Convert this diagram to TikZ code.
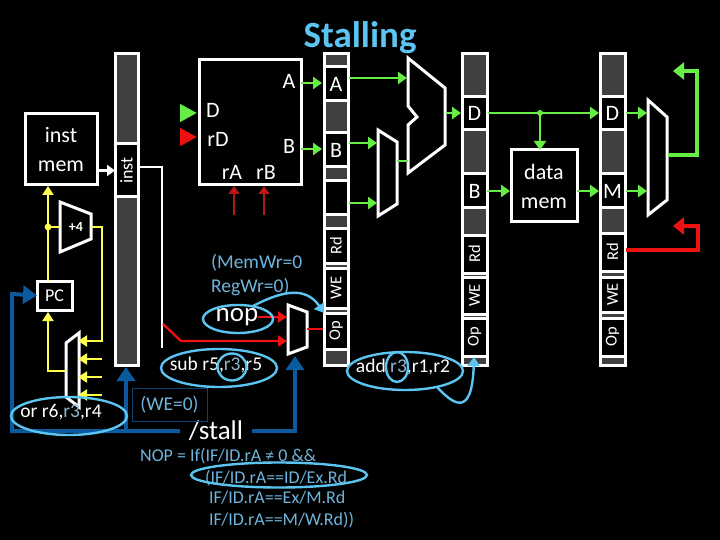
\documentclass[tikz,border=0pt]{standalone}
\usepackage{fontspec}
\usepackage{graphicx}
\setmainfont{Carlito}
\usetikzlibrary{arrows.meta,shapes.geometric}
\definecolor{gr}{HTML}{404040}
\definecolor{grn}{HTML}{66EE44}
\definecolor{yel}{HTML}{FFFF4D}
\definecolor{rd}{HTML}{EE1111}
\definecolor{drd}{HTML}{B01818}
\definecolor{blu}{HTML}{0B5A9E}
\definecolor{sky}{HTML}{5CC4F0}
\definecolor{txb}{HTML}{6FB4DC}
\definecolor{rtx}{HTML}{8FB6CC}
\newcommand{\fs}[1]{\fontsize{#1}{#1}\selectfont}
\newcommand{\bx}[6][]{%
  \pgfmathsetmacro{\cxx}{(#3+#5)/2}\pgfmathsetmacro{\cyy}{(#4+#6)/2}%
  \pgfmathsetmacro{\wdd}{#5-#3}\pgfmathsetmacro{\htt}{#6-#4}%
  \node[minimum width=\wdd pt,minimum height=\htt pt,#1] (#2) at (\cxx,\cyy)}
\tikzset{
  blockbox/.style={draw=white,line width=3pt,fill=black,text=white,inner sep=0pt,outer sep=0pt},
  regbar/.style={draw=white,line width=3pt,fill=gr,inner sep=0pt,outer sep=0pt},
  cellbox/.style={draw=white,line width=3pt,fill=black,text=white,inner sep=0pt,outer sep=0pt},
  shp/.style={draw=white,line width=3pt,line join=miter},
  lab/.style={text=white,inner sep=0pt,anchor=center},
  gw/.style={draw=grn,line width=2.8pt,-{Triangle[length=9pt,width=12pt]}},
  gn/.style={draw=grn,line width=2.8pt},
  gthick/.style={draw=grn,line width=4.5pt,-{Triangle[length=11pt,width=17pt]}},
  yw/.style={draw=yel,line width=2pt,-{Triangle[length=9pt,width=11pt]}},
  ywn/.style={draw=yel,line width=2pt},
  rw/.style={draw=rd,line width=2.4pt,-{Triangle[length=9pt,width=11pt]}},
  rthick/.style={draw=rd,line width=4.5pt,-{Triangle[length=11pt,width=17pt]}},
  bighead/.style={line width=4.5pt,-{Triangle[length=17pt,width=17pt]}},
  drw/.style={draw=drd,line width=2pt,-{Triangle[length=8pt,width=11pt,fill=rd]}},
  bw/.style={draw=blu,line width=4pt,-{Triangle[length=14pt,width=18pt]}},
  bn/.style={draw=blu,line width=4pt},
  ring/.style={ellipse,draw=sky,line width=2.4pt,inner sep=0pt,outer sep=0pt},
  skyarrow/.style={draw=sky,line width=2.4pt,-{Triangle[length=9pt,width=12pt]}},
  note/.style={text=txb,inner sep=0pt,anchor=base west,font=\fs{18}},
}
\begin{document}
\begin{tikzpicture}[x=1pt,y=-1pt]
\path[fill=black,use as bounding box] (0,0) rectangle (720,540);

% title
\node[text=sky,inner sep=0pt,anchor=base,font=\fs{37}\bfseries] (title) at (360,48) {Stalling};

% pipeline register bars
\bx[regbar]{ifid}{115}{54}{138}{365} {};
\bx[regbar]{idex}{324}{54}{348}{365} {};
\bx[regbar]{exm}{462}{54}{487}{365} {};
\bx[regbar]{mw}{600}{54}{625}{365} {};

% cells
\bx[cellbox]{cinst}{115}{144}{138}{197} {\fs{18}\rotatebox{90}{inst}};
\bx[cellbox]{cA}{324}{67}{348}{101} {\fs{22}A};
\bx[cellbox]{cB}{324}{133}{348}{167} {\fs{22}B};
\bx[cellbox]{cX}{324}{181}{348}{215} {};
\bx[cellbox]{cRd}{324}{229}{348}{263} {\fs{16.5}\rotatebox{90}{Rd}};
\bx[cellbox]{cWE}{324}{268}{348}{308} {\fs{16.5}\rotatebox{90}{WE}};
\bx[cellbox]{cOp}{324}{313}{348}{349} {\fs{16.5}\rotatebox{90}{Op}};
\bx[cellbox]{dD}{462}{97}{487}{130} {\fs{22}D};
\bx[cellbox]{dB}{462}{174}{487}{208} {\fs{22}B};
\bx[cellbox]{dRd}{462}{235}{487}{273} {\fs{16.5}\rotatebox{90}{Rd}};
\bx[cellbox]{dWE}{462}{277}{487}{314} {\fs{16.5}\rotatebox{90}{WE}};
\bx[cellbox]{dOp}{462}{318}{487}{356} {\fs{16.5}\rotatebox{90}{Op}};
\bx[cellbox]{eD}{600}{97}{625}{130} {\fs{22}D};
\bx[cellbox]{eM}{600}{174}{625}{208} {\fs{22}M};
\bx[cellbox]{eRd}{600}{233}{625}{271} {\fs{16.5}\rotatebox{90}{Rd}};
\bx[cellbox]{eWE}{600}{277}{625}{312} {\fs{16.5}\rotatebox{90}{WE}};
\bx[cellbox]{eOp}{600}{318}{625}{356} {\fs{16.5}\rotatebox{90}{Op}};

% blocks
\bx[blockbox,align=center,font=\fontsize{22}{29}\selectfont]{imem}{25}{114}{97}{185} {inst\\mem};
\bx[blockbox]{rf}{199}{60}{301}{185} {};
\bx[blockbox,align=center,font=\fontsize{22}{29}\selectfont]{dmem}{511}{150}{577}{222} {data\\mem};
\bx[blockbox]{pc}{37}{281}{72}{310} {\fs{18}PC};

% register file labels
\node[lab,font=\fs{22}] (lA) at (289,81) {A};
\node[lab,font=\fs{22}] (lD) at (213,110) {D};
\node[lab,font=\fs{22}] (lrD) at (218,139) {rD};
\node[lab,font=\fs{22}] (lB) at (289,146) {B};
\node[lab,font=\fs{22}] (lrA) at (232,172) {rA};
\node[lab,font=\fs{22}] (lrB) at (266,172) {rB};

% shapes
\draw[shp] (60,202) -- (91,214) -- (91,239) -- (60,252) -- cycle;
\node[lab,font=\fs{14}\bfseries] (plus) at (76,227) {+4};
\draw[shp] (66,343) -- (79,333) -- (79,407) -- (66,397) -- cycle;
\draw[shp] (288,305) -- (307,312) -- (307,347) -- (288,354) -- cycle;
\draw[shp] (378,130) -- (397,142) -- (397,204) -- (378,216) -- cycle;
\draw[shp] (408,58) -- (445,88) -- (445,145) -- (408,173) -- (408,125) -- (417,117) -- (408,106) -- cycle;
\draw[shp] (648,100) -- (667,117) -- (667,200) -- (648,215) -- cycle;

% named ports
\coordinate (addin) at (60,227);
\coordinate (addout) at (91,227);
\coordinate (yj) at (48,227);
\coordinate (muxo) at (66,371);
\coordinate (mi1) at (78,341);
\coordinate (mi2) at (78,359);
\coordinate (mi3) at (78,377);
\coordinate (mi4) at (78,395);
\coordinate (yi2) at (102,359);
\coordinate (yi3) at (102,377);
\coordinate (yi4) at (102,395);
\coordinate (instout) at (138,167);
\coordinate (dotj) at (540,113);
\coordinate (rfD) at (197,113);
\coordinate (rfrD) at (197,137);

% yellow wires
\draw[yw] (pc.north -| yj) -- (48,186);
\draw[ywn] (yj) -- (addin);
\fill[yel] (yj) circle (3.4);
\draw[yw] (addout) -- (102,227) -- (102,341) -- (mi1);
\draw[yw] (yi2) -- (mi2);
\draw[yw] (yi3) -- (mi3);
\draw[yw] (yi4) -- (mi4);
\draw[yw] (muxo) -- (48,371) -- (48,312);

% white wires
\draw[draw=white,line width=2.4pt,-{Triangle[length=8pt,width=11pt]}] (imem.east |- cinst) -- (cinst.west);
\draw[draw=white,line width=2.4pt] (instout) -- (162,167) -- (162,348);

% green wires
\draw[draw=grn,bighead] (180,113) -- (rfD);
\draw[gw] (301,83) -- (322,83);
\draw[gw] (301,149) -- (322,149);
\draw[gw] (349,78) -- (407,78);
\draw[gw] (349,143) -- (377,143);
\draw[gw] (349,203) -- (377,203);
\draw[gn] (397,161) -- (408,161);
\draw[gw] (446,113) -- (461,113);
\draw[gw] (488,113) -- (599,113);
\fill[grn] (dotj) circle (3);
\draw[gw] (dotj) -- (dmem.north -| dotj);
\draw[gw] (dB.east) -- (510,191);
\draw[gw] (dmem.east |- eM) -- (599,191);
\draw[gw] (626,113) -- (647,113);
\draw[gw] (626,191) -- (647,191);
\draw[gthick] (668,155) -- (697,155) -- (697,71) -- (673,71);

% red wires
\draw[draw=rd,bighead] (180,137) -- (rfrD);
\draw[drw] (234,215) -- (234,186);
\draw[drw] (264,215) -- (264,186);
\draw[draw=rd,line width=2.4pt,-{Triangle[length=9pt,width=11pt]}] (163,324) -- (181,341) -- (287,341);
\draw[rw] (258,317) -- (287,317);
\draw[draw=rd,line width=2.4pt] (307,329) -- (323,329);
\draw[rthick] (626,250) -- (698,250) -- (698,226) -- (673,226);

% stall signal
\node[text=white,inner sep=0pt,minimum width=72pt,font=\fs{27}] (stall) at (216,431) {\raisebox{-2pt}{/stall}};
\draw[bw] (stall.west) -- (12,431) -- (12,294) -- (pc.west);
\draw[bw] (126,431) -- (126,367);
\draw[bw] (stall.east) -- (295,431) -- (295,356);

% WE box
\bx[draw=blu!75!black,line width=1pt,text=txb,inner sep=0pt,font=\fs{19.5}]{we}{132}{388}{207}{421} {(WE=0)};

% notes
\node[note,font=\fs{19.5},text=txb] (n1) at (211,268) {(MemWr=0};
\node[note,font=\fs{19.5},text=txb] (n2) at (211,292) {RegWr=0)};
\node[lab,font=\fs{27}] (nop) at (237,317) {nop};
\node[lab,font=\fs{19.5}] (tsub) at (216,365) {sub r5,\textcolor{rtx}{r3},r5};
\node[lab,font=\fs{19.5}] (tadd) at (403,367) {add \textcolor{rtx}{r3},r1,r2};
\node[lab,font=\fs{19.5}] (tor) at (61,412) {or r6,\textcolor{rtx}{r3},r4};

\node[note] (c1) at (140,461) {NOP = If(IF/ID.rA ≠ 0 \&\&};
\node[note] (c2) at (205,483) {(IF/ID.rA==ID/Ex.Rd};
\node[note] (c3) at (209,503) {IF/ID.rA==Ex/M.Rd};
\node[note] (c4) at (209,525) {IF/ID.rA==M/W.Rd))};

% rings
\node[ring,minimum width=116pt,minimum height=38pt] (ror) at (69,416) {};
\node[ring,minimum width=116pt,minimum height=38pt] (rsub) at (219,368) {};
\node[ring,minimum width=29pt,minimum height=27pt] (rsub3) at (232,367) {};
\node[ring,minimum width=70pt,minimum height=28pt] (rnop) at (238,319) {};
\node[ring,minimum width=116pt,minimum height=38pt] (radd) at (405,371) {};
\node[ring,minimum width=22pt,minimum height=30pt] (radd3) at (397,367) {};
\node[ring,minimum width=176pt,minimum height=25pt] (rcond) at (279,475) {};
\coordinate (nopfrom) at (253,306);
\coordinate (addfrom) at (437,387);
\draw[skyarrow] (nopfrom) .. controls (280,292) and (305,285) .. (cOp.north west);
\draw[skyarrow] (addfrom) .. controls (452,403) and (472,420) .. (474,357);
\end{tikzpicture}
\end{document}
